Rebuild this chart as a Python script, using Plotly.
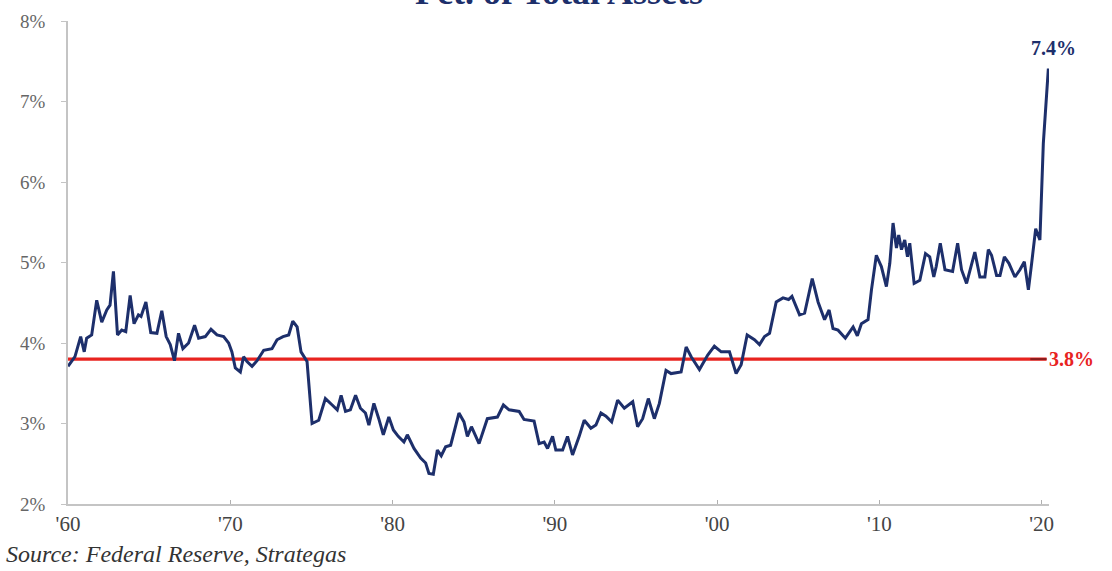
import plotly.graph_objects as go

years = [1960.00, 1960.43, 1960.78, 1961.00, 1961.15, 1961.46, 1961.77, 1962.08, 1962.39, 1962.59,
         1962.80, 1963.05, 1963.31, 1963.56, 1963.83, 1964.07, 1964.34, 1964.50, 1964.80, 1965.10,
         1965.48, 1965.78, 1966.05, 1966.30, 1966.56, 1966.81, 1967.08, 1967.43, 1967.80, 1968.05,
         1968.46, 1968.81, 1969.18, 1969.59, 1969.90, 1970.10, 1970.31, 1970.62, 1970.82, 1971.03,
         1971.34, 1971.65, 1972.06, 1972.57, 1972.88, 1973.25, 1973.60, 1973.85, 1974.12, 1974.36,
         1974.73, 1975.04, 1975.45, 1975.86, 1976.28, 1976.59, 1976.83, 1977.10, 1977.40, 1977.72,
         1978.02, 1978.33, 1978.54, 1978.85, 1979.15, 1979.43, 1979.77, 1980.05, 1980.35, 1980.70,
         1980.91, 1981.32, 1981.73, 1982.04, 1982.24, 1982.51, 1982.76, 1983.00, 1983.27, 1983.58,
         1984.09, 1984.40, 1984.61, 1984.86, 1985.33, 1985.84, 1986.46, 1986.83, 1987.18, 1987.80,
         1988.10, 1988.72, 1989.03, 1989.34, 1989.55, 1989.86, 1990.06, 1990.48, 1990.78, 1991.09,
         1991.50, 1991.81, 1992.22, 1992.53, 1992.84, 1993.15, 1993.50, 1993.87, 1994.28, 1994.80,
         1995.10, 1995.41, 1995.76, 1996.13, 1996.44, 1996.85, 1997.16, 1997.78, 1998.09, 1998.40,
         1998.91, 1999.42, 1999.83, 2000.25, 2000.76, 2001.17, 2001.48, 2001.85, 2002.30, 2002.61,
         2002.92, 2003.23, 2003.64, 2004.06, 2004.40, 2004.61, 2005.08, 2005.39, 2005.86, 2006.22,
         2006.62, 2006.90, 2007.14, 2007.45, 2007.90, 2008.38, 2008.64, 2008.89, 2009.30, 2009.51,
         2009.81, 2010.12, 2010.43, 2010.64, 2010.84, 2011.05, 2011.19, 2011.36, 2011.56, 2011.73,
         2011.87, 2012.14, 2012.49, 2012.84, 2013.10, 2013.35, 2013.50, 2013.75, 2014.04, 2014.51,
         2014.82, 2015.06, 2015.37, 2015.88, 2016.19, 2016.50, 2016.71, 2016.91, 2017.22, 2017.43,
         2017.70, 2017.98, 2018.35, 2018.66, 2018.93, 2019.18, 2019.38, 2019.63, 2019.89, 2020.10,
         2020.41]

pct_assets = [3.71, 3.83, 4.08, 3.89, 4.06, 4.10, 4.53, 4.26, 4.41, 4.47,
              4.89, 4.10, 4.16, 4.14, 4.59, 4.24, 4.35, 4.33, 4.51, 4.13,
              4.12, 4.40, 4.08, 3.98, 3.78, 4.12, 3.93, 4.00, 4.22, 4.06,
              4.08, 4.17, 4.10, 4.08, 4.00, 3.89, 3.69, 3.64, 3.83, 3.77,
              3.71, 3.78, 3.91, 3.93, 4.04, 4.08, 4.10, 4.27, 4.20, 3.89,
              3.77, 3.00, 3.04, 3.31, 3.23, 3.17, 3.35, 3.15, 3.17, 3.35,
              3.19, 3.13, 2.98, 3.25, 3.06, 2.86, 3.08, 2.92, 2.84, 2.77,
              2.86, 2.69, 2.57, 2.51, 2.38, 2.37, 2.67, 2.60, 2.71, 2.73,
              3.13, 3.02, 2.84, 2.96, 2.75, 3.06, 3.08, 3.23, 3.17, 3.15,
              3.05, 3.03, 2.75, 2.77, 2.69, 2.84, 2.67, 2.67, 2.84, 2.61,
              2.84, 3.04, 2.94, 2.98, 3.13, 3.09, 3.02, 3.29, 3.19, 3.27,
              2.96, 3.06, 3.31, 3.06, 3.25, 3.66, 3.62, 3.64, 3.95, 3.83,
              3.67, 3.85, 3.96, 3.89, 3.89, 3.62, 3.73, 4.10, 4.04, 3.98,
              4.08, 4.12, 4.51, 4.56, 4.54, 4.58, 4.35, 4.37, 4.80, 4.51,
              4.29, 4.41, 4.18, 4.16, 4.06, 4.20, 4.09, 4.24, 4.29, 4.66,
              5.09, 4.95, 4.70, 4.99, 5.49, 5.18, 5.34, 5.16, 5.28, 5.07,
              5.24, 4.74, 4.78, 5.11, 5.07, 4.82, 4.95, 5.24, 4.91, 4.89,
              5.24, 4.91, 4.74, 5.13, 4.82, 4.82, 5.16, 5.09, 4.84, 4.84,
              5.07, 4.99, 4.82, 4.91, 5.01, 4.66, 4.99, 5.42, 5.28, 6.48,
              7.41]

average_pct = 3.8
average_label = "3.8%"
last_label = "7.4%"
x_tick_vals = [1960, 1970, 1980, 1990, 2000, 2010, 2020]
x_tick_text = ["'60", "'70", "'80", "'90", "'00", "'10", "'20"]
y_tick_vals = [2, 3, 4, 5, 6, 7, 8]
y_tick_text = ["2%", "3%", "4%", "5%", "6%", "7%", "8%"]
title_text = "Pct. of Total Assets"
source_text = "Source: Federal Reserve, Strategas"

SERIF = "Georgia, 'Liberation Serif', 'DejaVu Serif', serif"
NAVY = "#1d2f6b"
RED = "#e8231f"
X_END = 2020.45

fig = go.Figure()

# Average line
fig.add_trace(go.Scatter(
    x=[years[0], 2020.3], y=[average_pct, average_pct],
    mode="lines", line=dict(color=RED, width=3.4),
    hoverinfo="skip", showlegend=False))
fig.add_trace(go.Scatter(
    x=[2019.3, 2020.3], y=[average_pct, average_pct],
    mode="lines", line=dict(color="#8a1c1c", width=2),
    hoverinfo="skip", showlegend=False))

# Main series
fig.add_trace(go.Scatter(
    x=years, y=pct_assets, mode="lines",
    line=dict(color=NAVY, width=3),
    showlegend=False))

fig.update_layout(
    width=1112, height=571,
    margin=dict(l=68, r=63, t=21, b=67),
    paper_bgcolor="white", plot_bgcolor="white",
    xaxis=dict(
        range=[1960, X_END], showgrid=False, zeroline=False,
        showline=True, linecolor="#c4c4c4", linewidth=1.5,
        tickmode="array", tickvals=x_tick_vals, ticktext=x_tick_text,
        ticks="inside", ticklen=4, tickcolor="#b0b0b0",
        tickfont=dict(family=SERIF, size=21, color="#444444"),
    ),
    yaxis=dict(
        range=[2, 8], showgrid=False, zeroline=False,
        showline=True, linecolor="#c4c4c4", linewidth=1.5,
        tickmode="array", tickvals=y_tick_vals, ticktext=y_tick_text,
        ticks="outside", ticklen=5, tickcolor="#c4c4c4",
        ticklabelstandoff=12,
        tickfont=dict(family=SERIF, size=19, color="#666666"),
    ),
    annotations=[
        dict(text=f"<b>{title_text}</b>", xref="paper", yref="paper",
             x=0.5, y=1.0, yshift=7, xanchor="center", yanchor="bottom",
             showarrow=False, font=dict(family=SERIF, size=36, color=NAVY)),
        dict(text=f"<b>{last_label}</b>", xref="x", yref="y",
             x=years[-1], y=pct_assets[-1], xshift=5, yshift=8,
             xanchor="center", yanchor="bottom",
             showarrow=False, font=dict(family=SERIF, size=20, color=NAVY)),
        dict(text=f"<b>{average_label}</b>", xref="x", yref="y",
             x=2020.35, y=average_pct, xanchor="left", yanchor="middle",
             showarrow=False, font=dict(family=SERIF, size=20, color=RED)),
        dict(text=f"<i>{source_text}</i>", xref="paper", yref="paper",
             x=-64/981, y=-0.072, xanchor="left", yanchor="top",
             showarrow=False, font=dict(family=SERIF, size=24, color="#333333")),
    ],
)

fig.write_html("out.html")
